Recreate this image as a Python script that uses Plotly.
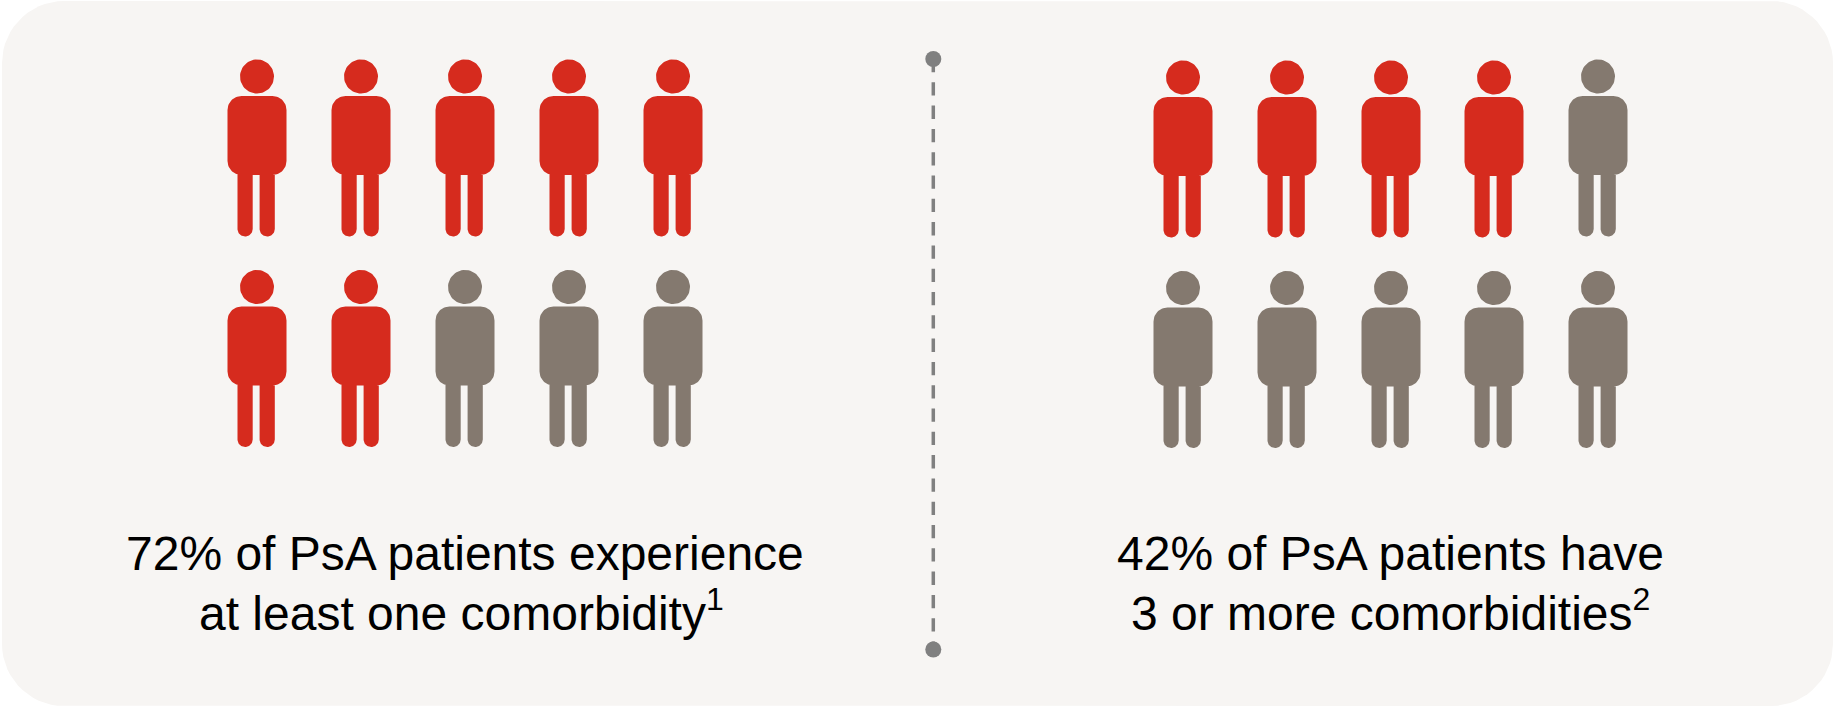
import numpy as np
import plotly.graph_objects as go

# Share of patients per panel and how many of ten figures are highlighted
panel_names = ["At least one comorbidity", "Three or more comorbidities"]
panel_percent = [72, 42]
highlighted_of_ten = [7, 4]
line_one = ["72% of PsA patients experience", "42% of PsA patients have"]
line_two = ["at least one comorbidity", "3 or more comorbidities"]
footnotes = ["1", "2"]

RED = "#D62B1E"
GREY = "#84796F"
PANEL = "#F7F5F3"
DIVIDER = "#808080"
FONT = "Liberation Sans"
W, H = 1835, 707

# Figure centres (column x, per-row head y) for each panel
columns = [[257, 361, 465, 569, 673], [1183, 1287, 1391, 1494, 1598]]
rows = [[[76.5] * 5, [287] * 5], [[77.5, 77.5, 77.5, 77.5, 76.5], [288] * 5]]


def rounded_rect(x0, y0, x1, y1, rs):
    """Closed outline; rs gives radii for top-left, top-right, bottom-right, bottom-left."""
    corners = [(x0 + rs[0], y0 + rs[0], 180, rs[0]), (x1 - rs[1], y0 + rs[1], 270, rs[1]),
               (x1 - rs[2], y1 - rs[2], 0, rs[2]), (x0 + rs[3], y1 - rs[3], 90, rs[3])]
    xs, ys = [], []
    for cx, cy, start, r in corners:
        t = np.radians(np.linspace(start, start + 90, 16))
        xs += list(cx + r * np.cos(t))
        ys += list(cy + r * np.sin(t))
    return xs + xs[:1], ys + ys[:1]


def person(cx, head_y):
    """Outline pieces of one figure: head, torso and two legs."""
    t = np.linspace(0, 2 * np.pi, 61)
    parts = [(list(cx + 17 * np.cos(t)), list(head_y + 17 * np.sin(t)))]
    parts.append(rounded_rect(cx - 29.5, head_y + 19.5, cx + 29.5, head_y + 98.5, [14] * 4))
    parts.append(rounded_rect(cx - 19.5, head_y + 90, cx - 4.3, head_y + 160, [0, 0, 7.5, 7.5]))
    parts.append(rounded_rect(cx + 2.6, head_y + 90, cx + 17.8, head_y + 160, [0, 0, 7.5, 7.5]))
    return parts


def figures_trace(people, color, name):
    xs, ys = [], []
    for cx, cy in people:
        for px, py in person(cx, cy):
            xs += px + [None]
            ys += py + [None]
    return go.Scatter(x=xs, y=ys, mode="lines", fill="toself", fillcolor=color,
                      line=dict(width=0, color=color), hoverinfo="skip", name=name)


fig = go.Figure()

# Rounded panel behind everything
bx, by = rounded_rect(2, 1, 1833, 706, [62] * 4)
fig.add_trace(go.Scatter(x=bx, y=by, mode="lines", fill="toself", fillcolor=PANEL,
                         line=dict(width=0, color=PANEL), hoverinfo="skip"))

for p, count in enumerate(highlighted_of_ten):
    grid = [(columns[p][c], rows[p][r][c]) for r in range(2) for c in range(5)]
    fig.add_trace(figures_trace(grid[:count], RED, panel_names[p]))
    fig.add_trace(figures_trace(grid[count:], GREY, panel_names[p]))

# Dashed divider with round end caps
fig.add_trace(go.Scatter(x=[933.3, 933.3], y=[59, 649.5], mode="lines",
                         line=dict(color=DIVIDER, width=3.5, dash="13.3px,10px"), hoverinfo="skip"))
fig.add_trace(go.Scatter(x=[933.3, 933.3], y=[59, 649.5], mode="markers",
                         marker=dict(color=DIVIDER, size=16), hoverinfo="skip"))

centres_one = [464.5, 1390]
centres_two = [461, 1390]
for p in range(2):
    second = f'{line_two[p]}<sup><span style="font-size:32px">{footnotes[p]}</span></sup>'
    for text, x, y in ((line_one[p], centres_one[p], 553), (second, centres_two[p], 610)):
        fig.add_annotation(x=x, y=y, text=text, showarrow=False, xanchor="center", yanchor="middle",
                           font=dict(family=FONT, size=48, color="#000000"))

fig.update_xaxes(range=[0, W], visible=False, fixedrange=True)
fig.update_yaxes(range=[H, 0], visible=False, fixedrange=True)
fig.update_layout(width=W, height=H, margin=dict(l=0, r=0, t=0, b=0), showlegend=False,
                  paper_bgcolor="white", plot_bgcolor="white")
fig.write_html("out.html")
